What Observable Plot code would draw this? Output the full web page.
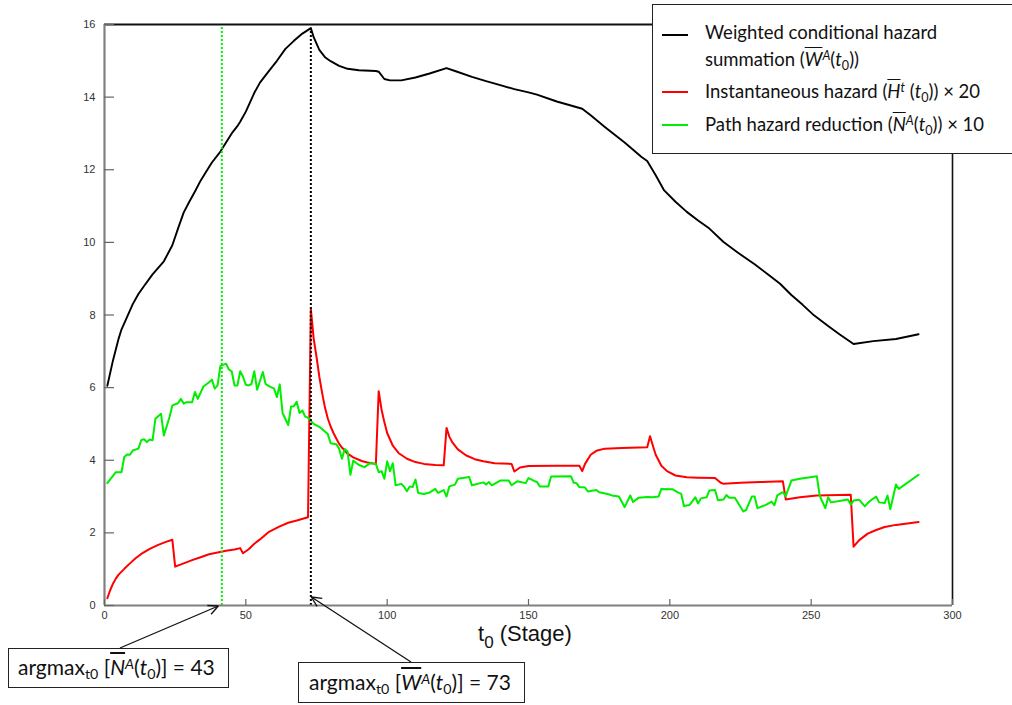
<!DOCTYPE html>
<html><head><meta charset="utf-8">
<script src="https://cdn.jsdelivr.net/npm/d3@7"></script>
<script src="https://cdn.jsdelivr.net/npm/@observablehq/plot@0.6"></script>
<style>
body{margin:0;background:#fff;}
#wrap{position:relative;width:1012px;height:705px;overflow:hidden;font-family:Lato,"Open Sans",sans-serif;color:#111;}
.box{position:absolute;border:1.6px solid #222;background:#fff;box-sizing:border-box;}
.sw{position:absolute;height:1.6px;}
.lt{position:absolute;font-size:18.5px;line-height:27px;white-space:nowrap;}
.ov{text-decoration:overline;}
.sub{font-size:0.68em;vertical-align:-0.3em;line-height:0;}
.sup{font-size:0.68em;vertical-align:0.45em;line-height:0;font-style:italic;}
.ann{position:absolute;font-size:21px;line-height:24px;white-space:nowrap;}
#ov{position:absolute;left:0;top:0;pointer-events:none;}
</style></head>
<body><div id="wrap"></div>
<script>
// ---- data ----
const wT = [1,3,5,6,8,10,12,14,17,21,24,26,28,30,32,34,36,38,41,43,45,47,48,50,53,55,58,61,64,67,70,73,74,76,78,80,83,86,90,96,97,99,101,105,110,115,121,124,130,135,140,145,150,153,160,165,169,172,177,184,190,192,195,198,202,206,210,214,219,224,230,235,239,243,247,251,256,260,265,272,280,288];
const wV = [6.05,6.75,7.35,7.6,7.95,8.3,8.58,8.8,9.12,9.48,9.92,10.38,10.82,11.12,11.4,11.7,11.95,12.2,12.5,12.75,13.0,13.2,13.32,13.6,14.12,14.4,14.7,15.0,15.33,15.55,15.75,15.9,15.65,15.3,15.1,14.99,14.86,14.78,14.74,14.72,14.7,14.5,14.46,14.46,14.54,14.65,14.8,14.72,14.56,14.44,14.33,14.22,14.13,14.07,13.88,13.77,13.68,13.5,13.18,12.75,12.35,12.24,11.85,11.43,11.12,10.84,10.6,10.38,10.01,9.72,9.4,9.1,8.86,8.55,8.28,7.99,7.7,7.47,7.2,7.28,7.34,7.47];

const hT = [1,2,3,4,5,7,9,11,13,16,19,22,24,25,28,31,34,37,40,43,46,48,49,51,53,55,58,62,65,68,72,73,74,75,76,77,78,79,80,81,82,83,84,86,88,91,93,96,97,98,99,100,102,104,107,110,113,117,120,121,122,123,125,128,131,134,138,144,145,147,150,160,168,169,170,172,174,177,183,192,193,194,195,197,199,202,206,210,216,218,219,225,232,240,241,246,252,264,265,267,270,273,276,280,284,288];
const hV = [0.2,0.42,0.6,0.74,0.85,1.01,1.16,1.3,1.42,1.56,1.67,1.76,1.81,1.07,1.16,1.25,1.33,1.41,1.46,1.51,1.54,1.58,1.44,1.55,1.7,1.82,2.02,2.18,2.28,2.34,2.43,8.17,7.35,6.85,6.3,5.85,5.45,5.15,4.93,4.75,4.6,4.45,4.35,4.18,4.08,3.98,3.94,3.9,5.9,5.4,5.05,4.75,4.4,4.2,4.04,3.95,3.9,3.87,3.86,4.89,4.65,4.5,4.3,4.13,4.03,3.97,3.92,3.9,3.69,3.8,3.84,3.85,3.85,3.7,3.9,4.15,4.26,4.32,4.34,4.36,4.66,4.4,4.15,3.85,3.7,3.58,3.53,3.52,3.51,3.38,3.35,3.38,3.4,3.42,2.92,2.98,3.03,3.05,1.62,1.8,1.98,2.08,2.16,2.22,2.26,2.3];

const nT = [1,4,6,7,8,9,10,12,13,14,15,16,17,18,20,21,23,24,26,27,28,29,31,32,33,35,37,38,39,40,41,43,44,45,46,47,48,49,50,51,52,53,54,56,57,58,60,61,62,63,65,66,67,68,69,70,71,72,74,76,79,80,82,83,84,85,86,87,88,90,92,94,96,97,98,99,100,101,102,103,105,106,107,108,109,110,111,113,115,117,118,120,121,122,124,125,129,130,133,134,135,136,137,140,143,144,146,149,150,152,153,154,157,158,165,166,167,168,170,171,174,175,178,180,182,184,186,187,189,192,194,196,197,201,203,204,205,207,209,210,211,213,214,216,217,219,220,221,223,226,227,229,230,231,234,236,237,238,240,241,243,246,252,253,255,256,257,260,263,264,265,267,269,270,271,273,274,276,277,278,280,281,288];
const nV = [3.37,3.67,3.67,4.09,4.16,4.15,4.27,4.32,4.55,4.58,4.5,4.57,4.55,5.14,5.28,4.68,5.19,5.51,5.57,5.69,5.56,5.6,5.6,5.88,5.69,6.03,6.15,6.22,5.97,6.06,6.6,6.66,6.5,6.45,6.06,6.06,6.45,6.3,6.08,6.06,6.1,6.45,5.94,6.43,6.1,6.05,5.97,5.74,6.09,5.3,4.97,5.48,5.49,5.61,5.3,5.37,5.2,5.17,5.0,4.92,4.72,4.47,4.44,4.32,4.04,4.31,4.24,3.6,3.99,3.87,3.81,3.92,3.9,3.67,3.7,3.49,3.97,3.7,3.92,3.31,3.35,3.27,3.15,3.28,3.26,3.47,3.1,3.07,3.11,3.21,3.1,3.18,3.0,3.28,3.33,3.49,3.54,3.31,3.37,3.39,3.33,3.4,3.31,3.44,3.44,3.31,3.42,3.37,3.51,3.43,3.4,3.28,3.28,3.55,3.56,3.38,3.37,3.26,3.25,3.14,3.18,3.12,3.07,3.02,3.0,2.71,3.03,2.85,2.97,2.99,2.98,3.0,3.21,3.2,3.11,3.08,2.74,2.77,2.98,2.81,2.95,2.98,3.17,3.18,2.9,2.92,3.04,2.97,2.97,2.59,2.63,3.0,3.0,2.68,2.77,2.86,2.76,3.03,3.12,3.01,3.44,3.49,3.56,3.03,2.68,2.98,2.84,2.88,2.92,2.78,2.89,2.91,2.73,2.82,2.89,3.0,2.84,2.82,3.03,2.65,3.33,3.21,3.6];

const xTicks = [0,50,100,150,200,250,300];
const yTicks = [0,2,4,6,8,10,12,14,16];
const markerPos = [41.5, 73];        // positions of the dotted argmax markers on the t0 axis
const markerTop = [16, 15.9];
const argmaxLabels = [43, 73];

const seriesW = wT.map((t,i)=>({t, v:wV[i]}));
const seriesH = hT.map((t,i)=>({t, v:hV[i]}));
const seriesN = nT.map((t,i)=>({t, v:nV[i]}));

const W = 1012, H = 705, mL = 104, mR = 60, mT = 24, mB = 100;
const pw = W - mL - mR, ph = H - mT - mB;

const plot = Plot.plot({
  width: W, height: H,
  marginLeft: mL, marginRight: mR, marginTop: mT, marginBottom: mB,
  style: {fontFamily: "'Liberation Sans', Arial, sans-serif", fontSize: "11px", color: "#333", background: "white", overflow: "visible"},
  x: {domain: [0, 300]},
  y: {domain: [0, 16]},
  marks: [
    Plot.line(seriesW, {x: "t", y: "v", stroke: "#000", strokeWidth: 1.9}),
    Plot.line(seriesH, {x: "t", y: "v", stroke: "#ff0000", strokeWidth: 2}),
    Plot.line(seriesN, {x: "t", y: "v", stroke: "#00ee00", strokeWidth: 2}),
    Plot.ruleX([0], {x: () => markerPos[0], y1: 0, y2: markerTop[0], stroke: "#00ee00", strokeWidth: 2, strokeDasharray: "2,2"}),
    Plot.ruleX([0], {x: () => markerPos[1], y1: 0, y2: markerTop[1], stroke: "#000", strokeWidth: 2, strokeDasharray: "2,2"}),
    Plot.ruleY([16], {stroke: "#111", strokeWidth: 2}),
    Plot.ruleX([300], {stroke: "#111", strokeWidth: 1.6}),
    Plot.ruleX([0], {stroke: "#808080", strokeWidth: 2.2}),
    Plot.ruleY([0], {stroke: "#808080", strokeWidth: 2.2}),
    Plot.tickY(yTicks, {y: d => d, stroke: "#666", strokeWidth: 1.2, insetRight: pw - 10}),
    Plot.tickX(xTicks, {x: d => d, stroke: "#666", strokeWidth: 1.2, insetTop: ph - 6}),
    Plot.axisY({ticks: yTicks, tickSize: 0, tickPadding: 9, label: null, fill: "#333"}),
    Plot.axisX({ticks: xTicks, tickSize: 0, tickPadding: 6, label: null, fill: "#333"})
  ]
});
const wrap = document.getElementById("wrap");
wrap.appendChild(plot);

// x axis title
const svg = d3.select(plot);
const xs = plot.scale("x"), ys = plot.scale("y");
const title = svg.append("text")
  .attr("x", 478).attr("y", 641)
  .attr("text-anchor", "start")
  .attr("font-family", "'Liberation Sans', Arial, sans-serif")
  .attr("font-size", 22).attr("fill", "#111");
title.append("tspan").text("t");
title.append("tspan").attr("dy", 7).attr("font-size", 17).text("0");
title.append("tspan").attr("dy", -7).text(" (Stage)");

// legend
wrap.insertAdjacentHTML("beforeend", `
<div class="box" style="left:652px;top:4px;width:380px;height:150px;"></div>
<div class="sw" style="left:662px;top:34px;width:26px;background:#000"></div>
<div class="sw" style="left:662px;top:91px;width:26px;background:#ff0000"></div>
<div class="sw" style="left:662px;top:124px;width:26px;background:#00ee00"></div>
<div class="lt" style="left:705px;top:19px;">Weighted conditional hazard<br>summation (<span class="ov"><i>W</i></span><span class="sup">A</span>(<i>t</i><span class="sub">0</span>))</div>
<div class="lt" style="left:705px;top:78px;">Instantaneous hazard (<span class="ov"><i>H</i></span><span class="sup">t</span> (<i>t</i><span class="sub">0</span>)) × 20</div>
<div class="lt" style="left:705px;top:111px;">Path hazard reduction (<span class="ov"><i>N</i></span><span class="sup">A</span>(<i>t</i><span class="sub">0</span>)) × 10</div>
<div class="box" style="left:8px;top:648px;width:221px;height:40px;"></div>
<div class="ann" style="left:18px;top:655px;">argmax<span class="sub">t0</span> [<span class="ov"><i>N</i></span><span class="sup">A</span>(<i>t</i><span class="sub">0</span>)] = ${argmaxLabels[0]}</div>
<div class="box" style="left:298px;top:662px;width:227px;height:41px;"></div>
<div class="ann" style="left:309px;top:670px;">argmax<span class="sub">t0</span> [<span class="ov"><i>W</i></span><span class="sup">A</span>(<i>t</i><span class="sub">0</span>)] = ${argmaxLabels[1]}</div>
`);

// arrows
const ov = d3.select(wrap).append("svg").attr("id", "ov").attr("width", W).attr("height", H);
function arrow(x1, y1, x2, y2) {
  ov.append("line").attr("x1", x1).attr("y1", y1).attr("x2", x2).attr("y2", y2).attr("stroke", "#111").attr("stroke-width", 1.3);
  const a = Math.atan2(y2 - y1, x2 - x1), L = 11, s = 0.45;
  for (const d of [-s, s]) {
    ov.append("line").attr("x1", x2).attr("y1", y2)
      .attr("x2", x2 - L * Math.cos(a + d)).attr("y2", y2 - L * Math.sin(a + d))
      .attr("stroke", "#111").attr("stroke-width", 1.3);
  }
}
arrow(120, 648, xs.apply(markerPos[0]) - 3, ys.apply(0) + 1);
arrow(411, 662, xs.apply(markerPos[1]) + 1, ys.apply(0) - 8);
</script></body></html>
